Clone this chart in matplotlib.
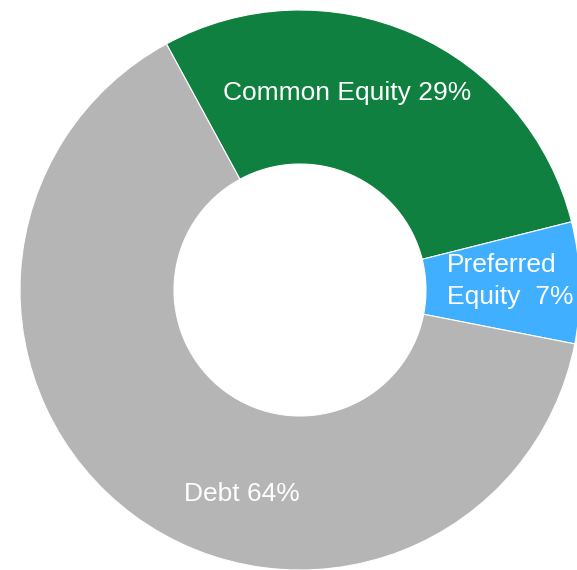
import matplotlib
matplotlib.use("Agg")
import matplotlib.pyplot as plt

# Data
categories = ["Common Equity", "Preferred Equity", "Debt"]
shares = [29, 7, 64]
label_texts = ["Common Equity 29%", "Preferred\nEquity  7%", "Debt 64%"]

# Style
colors = ["#108040", "#40AFFF", "#B5B5B5"]
W, H = 577, 570
fig = plt.figure(figsize=(W / 100, H / 100), dpi=100)
ax = fig.add_axes([0, 0, 1, 1])

cx, cy, R = 300, H - 290, 280
hole = 126
ax.pie(shares, colors=colors, startangle=118.5, counterclock=False,
       center=(cx, cy), radius=R,
       wedgeprops=dict(width=R - hole, edgecolor="white", linewidth=0.8))
ax.set_xlim(0, W)
ax.set_ylim(0, H)
ax.set_aspect("auto")
ax.axis("off")

# label anchor positions (pixel coords from top-left) and alignment
label_pos = [(347, 93, "center"), (447, 281, "left"), (242, 494, "center")]
for txt, (x, y, ha) in zip(label_texts, label_pos):
    ax.text(x, H - y, txt, ha=ha, va="center", color="white",
            fontsize=19, family="Liberation Sans", linespacing=1.4)

fig.savefig("out.png", dpi=100)
